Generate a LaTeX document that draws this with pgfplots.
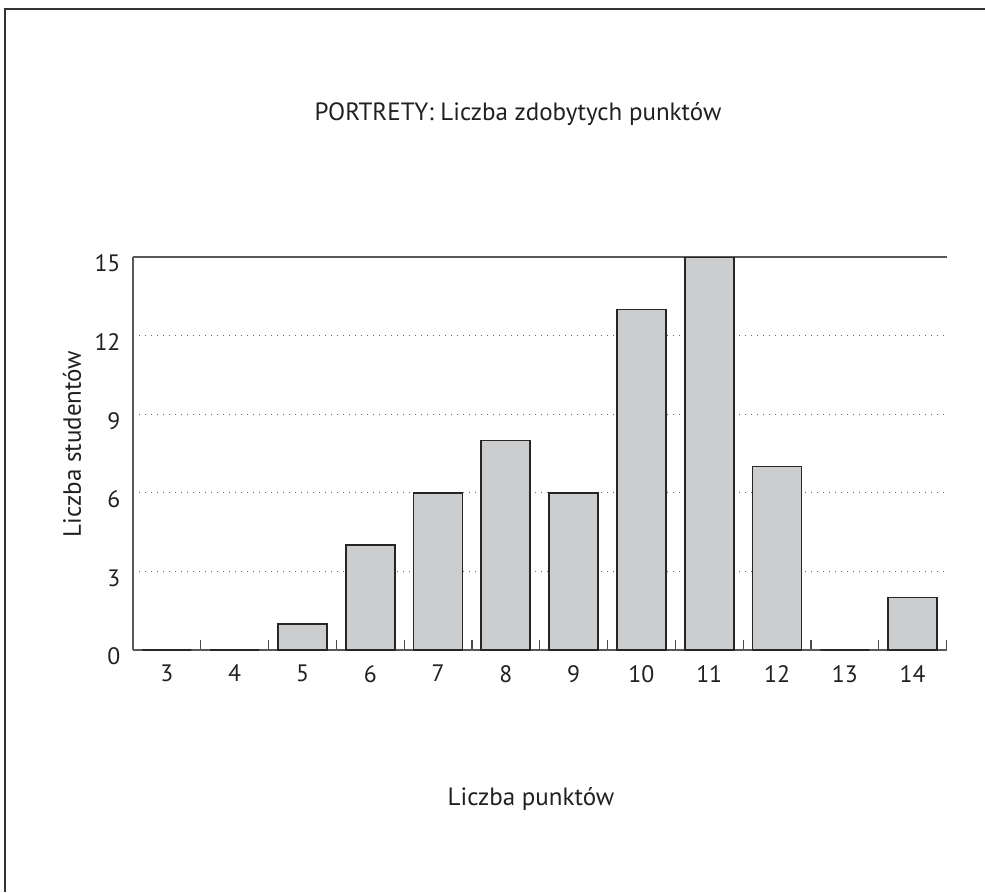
\documentclass[border=0pt]{standalone}
\usepackage{fontspec}
\setmainfont{PT Sans}
\usepackage{pgfplots}
\pgfplotsset{compat=1.18}
\definecolor{barfill}{HTML}{CCCDCF}
\definecolor{ink}{HTML}{231F20}
\begin{document}
\begin{tikzpicture}
\useasboundingbox (0,0) rectangle (394pt,-356.8pt);
\draw[line width=0.8pt, color=black!80] (2pt,-356.8pt) -- (2pt,-3.4pt) -- (394pt,-3.4pt);
\begin{axis}[
  at={(53.2pt,-260pt)}, anchor=south west,
  scale only axis, width=325.4pt, height=157.2pt,
  xmin=-0.5, xmax=11.5, ymin=0, ymax=15,
  axis y line=left, axis x line=box,
  axis line style={-, color=black!65, line width=0.5pt},
  xtick={0,...,11},
  xticklabels={3,4,5,6,7,8,9,10,11,12,13,14},
  minor xtick={-0.5,0.5,...,11.5},
  xtick pos=bottom,
  tick align=inside,
  major x tick style={draw=none},
  minor tick length=4pt,
  minor tick style={color=black!70, line width=0.5pt},
  ytick={0,3,...,15},
  major y tick style={draw=none},
  ymajorgrids,
  grid style={dotted, color=black!60, line width=0.4pt},
  /pgf/number format/assume math mode=true,
  tick label style={font=\fontsize{9.5}{11}\selectfont, color=ink},
  xticklabel style={yshift=-2.5pt},
  yticklabel style={xshift=-1.5pt, yshift=-2.6pt},
]
\addplot[ybar, bar width=19.6pt, fill=barfill, draw=black!85, line width=0.7pt]
  coordinates {(0,0) (1,0) (2,1) (3,4) (4,6) (5,8) (6,6) (7,13) (8,15) (9,7) (10,0) (11,2)};
\end{axis}
\node[anchor=base, font=\fontsize{10}{12}\selectfont, color=ink] at (207.2pt,-48pt) {PORTRETY: Liczba zdobytych punktów};
\node[anchor=base, font=\fontsize{10}{12}\selectfont, color=ink] at (212.4pt,-322pt) {Liczba punktów};
\node[anchor=base, rotate=90, font=\fontsize{10}{12}\selectfont, color=ink] at (32.4pt,-177.6pt) {Liczba studentów};
\end{tikzpicture}
\end{document}
